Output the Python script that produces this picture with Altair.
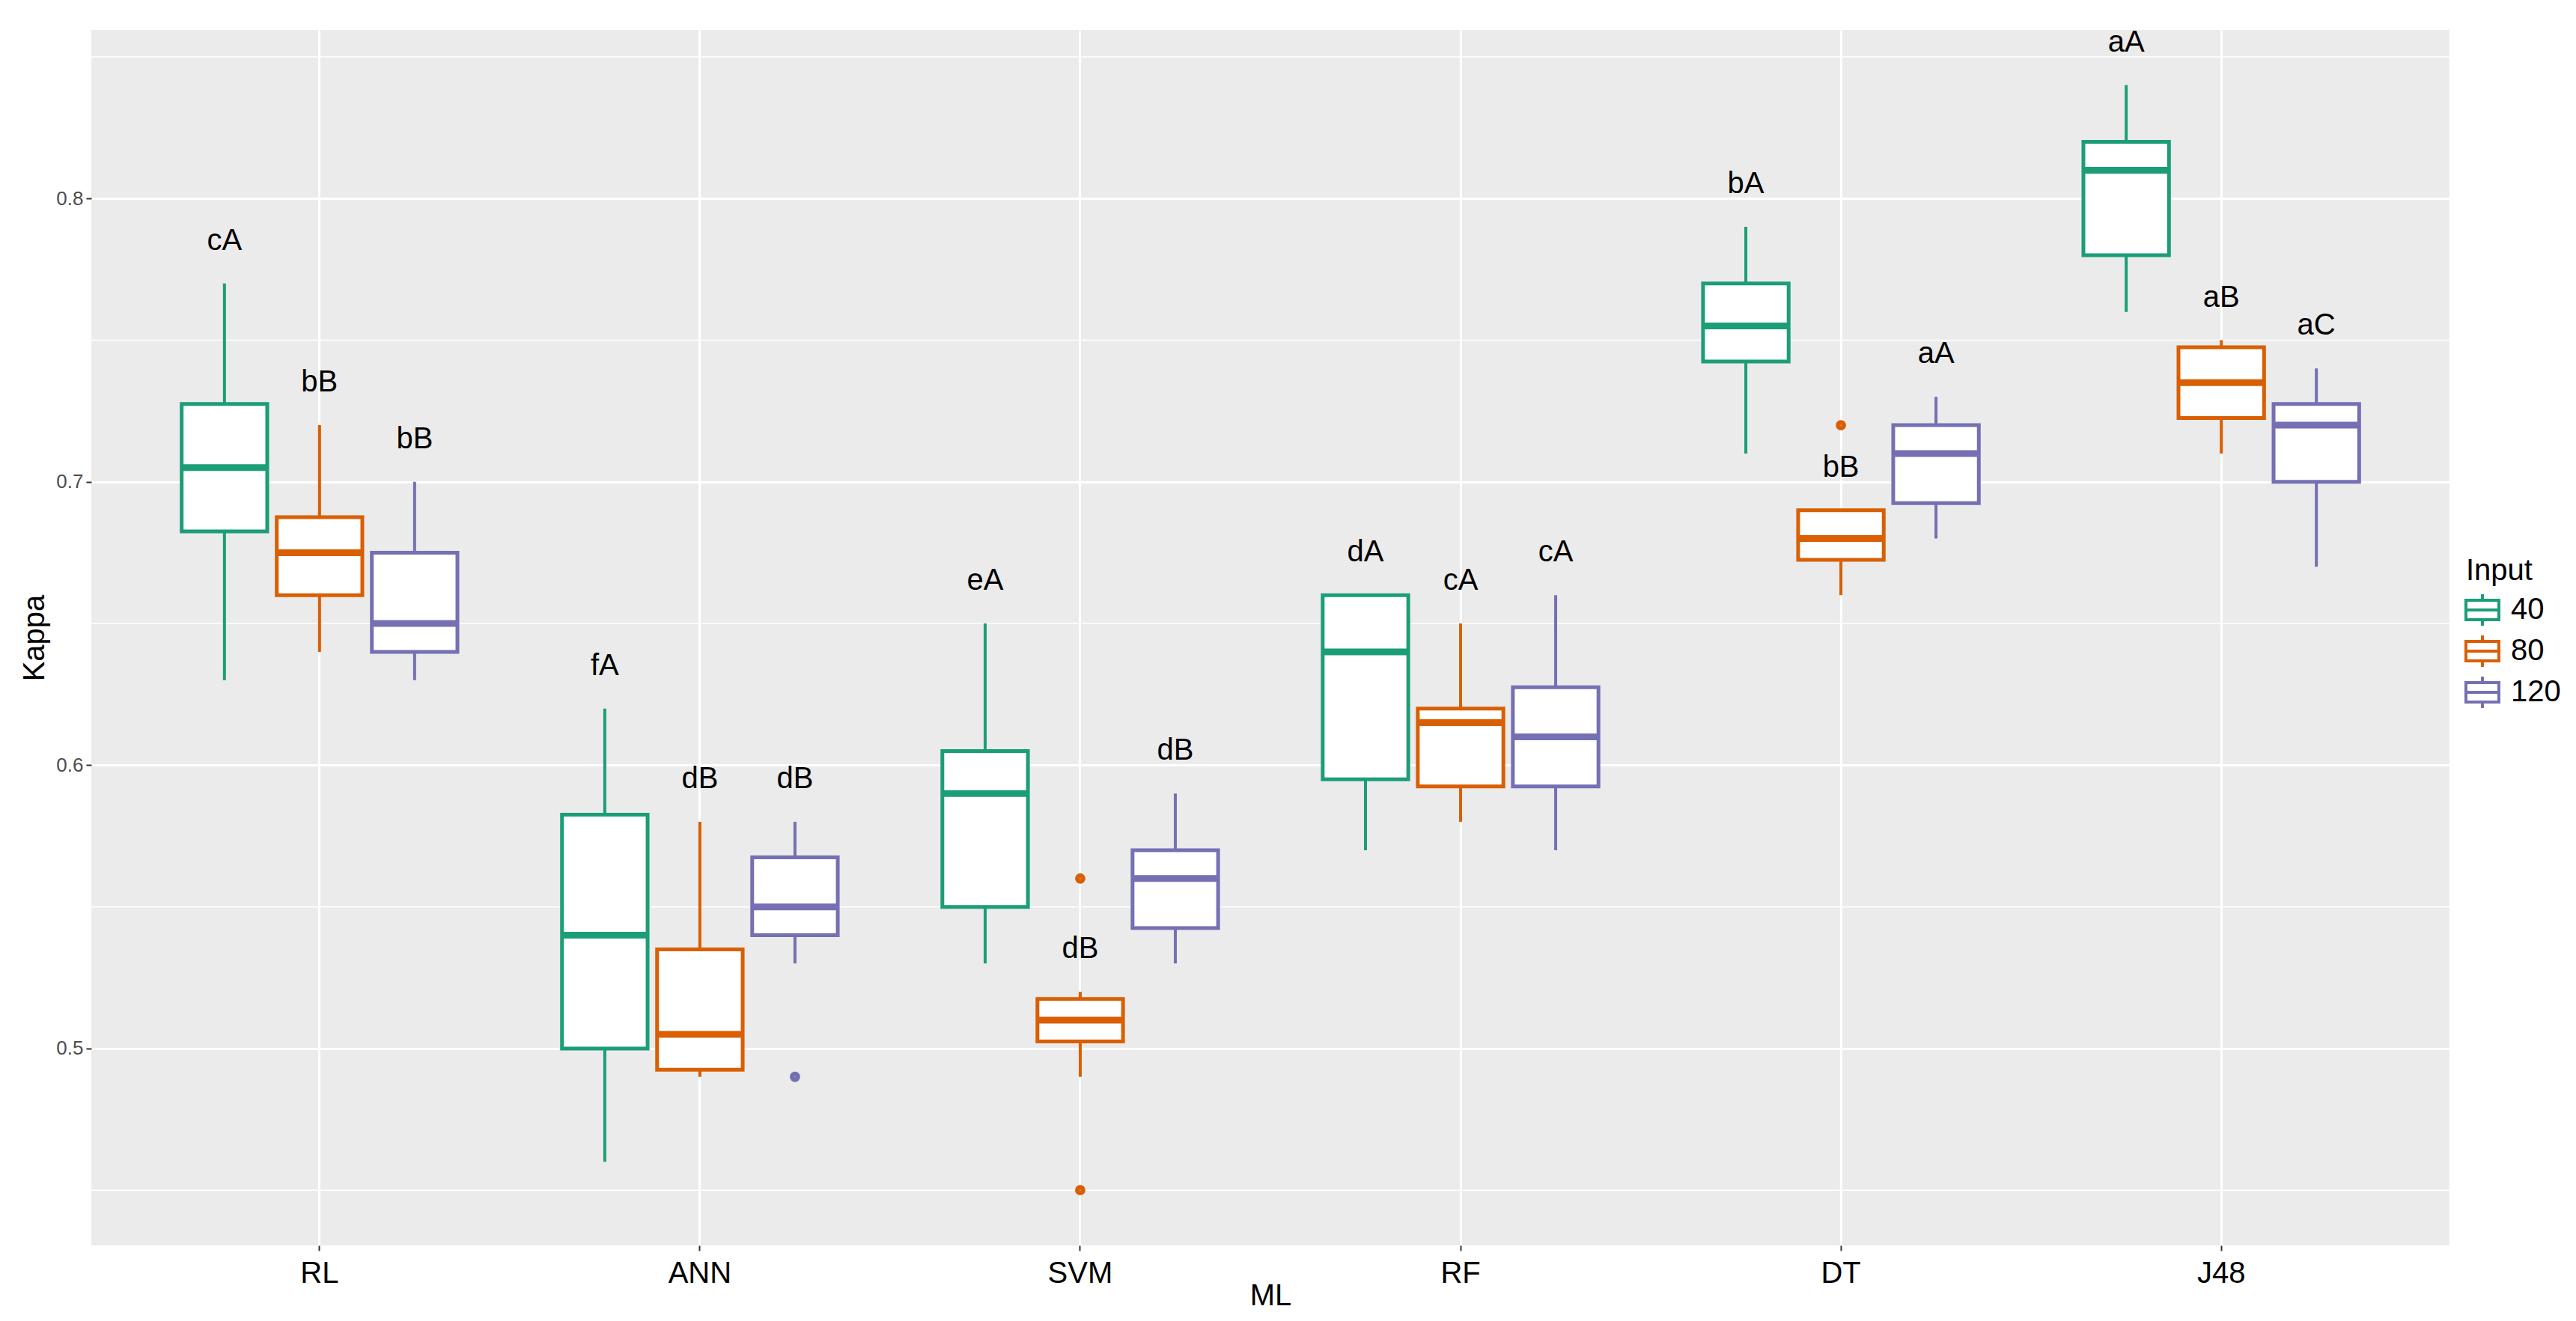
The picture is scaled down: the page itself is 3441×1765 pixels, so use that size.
import altair as alt
import pandas as pd

ml = ["RL", "ANN", "SVM", "RF", "DT", "J48"]
inputs = ["40", "80", "120"]
colors = ["#1B9E77", "#D95F02", "#7570B3"]
box_fill = ["white", "white", "white"]

lower = {"40": [0.63, 0.46, 0.53, 0.57, 0.71, 0.76],
         "80": [0.64, 0.49, 0.49, 0.58, 0.66, 0.71],
         "120": [0.63, 0.53, 0.53, 0.57, 0.68, 0.67]}
q1 = {"40": [0.6825, 0.50, 0.55, 0.595, 0.7425, 0.78],
      "80": [0.66, 0.4925, 0.5025, 0.5925, 0.6725, 0.7225],
      "120": [0.64, 0.54, 0.5425, 0.5925, 0.6925, 0.70]}
median = {"40": [0.705, 0.54, 0.59, 0.64, 0.755, 0.81],
          "80": [0.675, 0.505, 0.51, 0.615, 0.68, 0.735],
          "120": [0.65, 0.55, 0.56, 0.61, 0.71, 0.72]}
q3 = {"40": [0.7275, 0.5825, 0.605, 0.66, 0.77, 0.82],
      "80": [0.6875, 0.535, 0.5175, 0.62, 0.69, 0.7475],
      "120": [0.675, 0.5675, 0.57, 0.6275, 0.72, 0.7275]}
upper = {"40": [0.77, 0.62, 0.65, 0.66, 0.79, 0.84],
         "80": [0.72, 0.58, 0.52, 0.65, 0.69, 0.75],
         "120": [0.70, 0.58, 0.59, 0.66, 0.73, 0.74]}
letters = {"40": ["cA", "fA", "eA", "dA", "bA", "aA"],
           "80": ["bB", "dB", "dB", "cA", "bB", "aB"],
           "120": ["bB", "dB", "dB", "cA", "aA", "aC"]}

out_ml = ["ANN", "SVM", "SVM", "DT"]
out_input = ["120", "80", "80", "80"]
out_val = [0.49, 0.56, 0.45, 0.72]

major_ticks = [0.5, 0.6, 0.7, 0.8]
minor_ticks = [0.45, 0.55, 0.65, 0.75, 0.85]
y_domain = [0.4305, 0.8595]

rows = []
for inp in inputs:
    for i, m in enumerate(ml):
        rows.append(dict(ML=m, Input=inp, lo=lower[inp][i], q1=q1[inp][i],
                         med=median[inp][i], q3=q3[inp][i], hi=upper[inp][i],
                         label=letters[inp][i]))
df = pd.DataFrame(rows)
out_df = pd.DataFrame({"ML": out_ml, "Input": out_input, "Kappa": out_val})
minor_df = pd.DataFrame({"y": minor_ticks})

FONT = "Liberation Sans"

yscale = alt.Scale(domain=y_domain, nice=False, zero=False)
yaxis = alt.Axis(title="Kappa", values=major_ticks, format=".1f", gridWidth=3,
                 labelFontSize=26, labelColor="#4D4D4D", titleFontSize=40,
                 titleColor="black", labelPadding=4, titlePadding=8)
xscale = alt.Scale(domain=ml, paddingInner=0, paddingOuter=0.1)
xaxis = alt.Axis(title="ML", grid=True, labelFontSize=40, labelColor="black",
                 labelAngle=0, titleFontSize=40, titleColor="black", gridWidth=3,
                 labelPadding=10, titlePadding=-10, bandPosition=0.5)
X = alt.X("ML:N", sort=ml, scale=xscale, axis=xaxis)
XO = alt.XOffset("Input:N", sort=inputs,
                 scale=alt.Scale(domain=inputs, paddingInner=0.1, paddingOuter=0.55))
cscale = alt.Scale(domain=inputs, range=colors)
fscale = alt.Scale(domain=inputs, range=box_fill)

box_icon = ("M-1.1,-0.65H1.1V0.65H-1.1Z M-1.1,0H1.1 "
            "M0,-0.65V-1.05 M0,0.65V1.05")

legend = alt.Legend(title="Input", orient="none", legendX=3172, legendY=703,
                    titleFontSize=40, titleFont=FONT,
                    titleFontWeight="normal", titleColor="black",
                    labelFontSize=40, labelFont=FONT,
                    labelColor="black", symbolType=box_icon,
                    symbolSize=1600, symbolStrokeWidth=4,
                    symbolFillColor="white", rowPadding=-3,
                    labelOffset=16, titlePadding=10, padding=0)

STROKE = alt.Stroke("Input:N", scale=cscale, sort=inputs, legend=legend)

minor = alt.Chart(minor_df).mark_rule(color="white", strokeWidth=1.5).encode(
    y=alt.Y("y:Q", scale=yscale, axis=yaxis)
)

whisk = alt.Chart(df).mark_rule(strokeWidth=4).encode(
    x=X, xOffset=XO,
    y=alt.Y("lo:Q", scale=yscale, axis=yaxis), y2="hi:Q",
    stroke=STROKE,
)

box = alt.Chart(df).mark_bar(strokeWidth=5, fillOpacity=1).encode(
    x=X, xOffset=XO,
    y=alt.Y("q1:Q", scale=yscale, axis=yaxis), y2="q3:Q",
    stroke=STROKE,
    fill=alt.Fill("Input:N", scale=fscale, sort=inputs, legend=legend),
)

med = alt.Chart(df).mark_tick(size=108, thickness=1, strokeWidth=8,
                              filled=False, opacity=1).encode(
    x=X, xOffset=XO,
    y=alt.Y("med:Q", scale=yscale, axis=yaxis),
    stroke=STROKE,
)

pts = alt.Chart(out_df).mark_point(size=40, strokeWidth=7.5, filled=False,
                                   shape="circle", opacity=1).encode(
    x=X, xOffset=XO,
    y=alt.Y("Kappa:Q", scale=yscale, axis=yaxis),
    stroke=STROKE,
)

txt = alt.Chart(df).mark_text(font=FONT, fontSize=40, dy=-57, baseline="middle",
                              color="black").encode(
    x=X, xOffset=XO,
    y=alt.Y("hi:Q", scale=yscale, axis=yaxis),
    text="label:N",
)

chart = alt.layer(minor, whisk, box, med, pts, txt).properties(
    width=3150, height=1624,
    padding={"left": 18, "top": 28, "right": 5, "bottom": 5},
).configure_view(fill="#EBEBEB", stroke=None).configure_axis(
    gridColor="white", domain=False, tickColor="#333333", tickWidth=2,
    tickSize=7, labelFont=FONT, titleFont=FONT, titleFontWeight="normal"
)

chart.save("out.html", embed_options={"renderer": "svg", "actions": False})
